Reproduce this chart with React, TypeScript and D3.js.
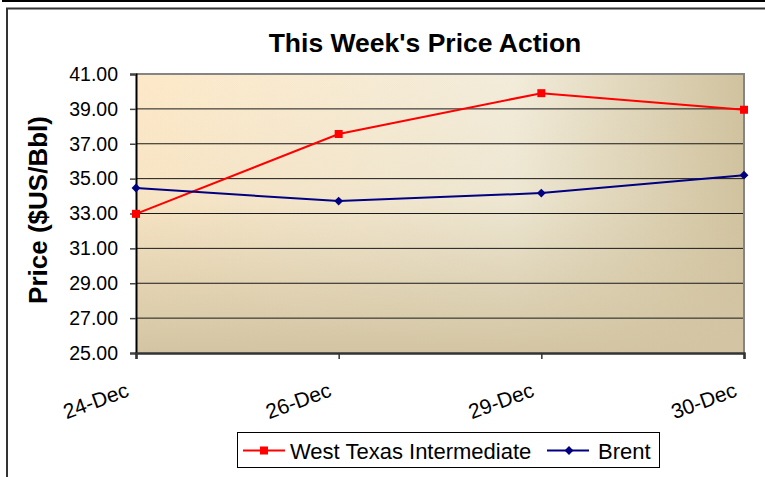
import { useEffect, useRef } from 'react';
import * as d3 from 'd3';

const dates = ['24-Dec', '26-Dec', '29-Dec', '30-Dec'];
const wti = [32.98, 37.56, 39.9, 38.95];
const brent = [34.46, 33.71, 34.17, 35.2];
const yTicks = [25, 27, 29, 31, 33, 35, 37, 39, 41];
const seriesNames = ['West Texas Intermediate', 'Brent'];

const FONT = '"Liberation Sans", Arial, sans-serif';

export default function App() {
  const svgRef = useRef<SVGSVGElement>(null);

  useEffect(() => {
    if (!svgRef.current) return;
    const svg = d3.select(svgRef.current);
    svg.selectAll('*').remove();

    const W = 765;
    const H = 477;
    const plot = { left: 136, right: 744, top: 74, bottom: 353 };

    svg.attr('width', W).attr('height', H).style('font-family', FONT);

    const x = d3.scalePoint<string>().domain(dates).range([plot.left, plot.right]);
    const y = d3.scaleLinear().domain([25, 41]).range([plot.bottom, plot.top]);

    // Background frame
    svg.append('rect').attr('width', W).attr('height', H).attr('fill', '#fff');
    svg.append('rect').attr('x', 2).attr('y', 0).attr('width', W).attr('height', 2).attr('fill', '#000');
    svg.append('path')
      .attr('d', `M7,${H} V8.5 H${W}`)
      .attr('fill', 'none')
      .attr('stroke', '#333')
      .attr('stroke-width', 2);

    // Gradients for plot area
    const defs = svg.append('defs');
    const hGrad = defs.append('linearGradient').attr('id', 'bg-h').attr('x1', '0%').attr('x2', '100%');
    hGrad.append('stop').attr('offset', '0%').attr('stop-color', '#fde9c9');
    hGrad.append('stop').attr('offset', '62%').attr('stop-color', '#f2ecda');
    hGrad.append('stop').attr('offset', '100%').attr('stop-color', '#d0c29e');
    const vGrad = defs.append('linearGradient').attr('id', 'bg-v').attr('x1', '0%').attr('x2', '0%').attr('y1', '0%').attr('y2', '100%');
    vGrad.append('stop').attr('offset', '0%').attr('stop-color', '#d3c5a3').attr('stop-opacity', 0);
    vGrad.append('stop').attr('offset', '45%').attr('stop-color', '#d3c5a3').attr('stop-opacity', 0.15);
    vGrad.append('stop').attr('offset', '100%').attr('stop-color', '#d3c5a3').attr('stop-opacity', 1);

    const pw = plot.right - plot.left;
    const ph = plot.bottom - plot.top;
    svg.append('rect').attr('x', plot.left).attr('y', plot.top).attr('width', pw).attr('height', ph).attr('fill', 'url(#bg-h)');
    svg.append('rect').attr('x', plot.left).attr('y', plot.top).attr('width', pw).attr('height', ph).attr('fill', 'url(#bg-v)');

    // Gridlines
    svg.append('g')
      .selectAll('line')
      .data(yTicks.filter(t => t > 25 && t < 41))
      .join('line')
      .attr('x1', plot.left).attr('x2', plot.right)
      .attr('y1', d => y(d)).attr('y2', d => y(d))
      .attr('stroke', '#1a1a1a')
      .attr('stroke-width', 1);

    // Plot border (top/right gray)
    svg.append('path')
      .attr('d', `M${plot.left},${plot.top} H${plot.right} V${plot.bottom}`)
      .attr('fill', 'none')
      .attr('stroke', '#858585')
      .attr('stroke-width', 2);

    // Y axis
    const yAxis = d3.axisLeft(y).tickValues(yTicks).tickSize(6).tickPadding(12).tickFormat(d => d3.format('.2f')(d as number));
    const gy = svg.append('g').attr('transform', `translate(${plot.left},0)`).call(yAxis);
    gy.select('.domain').attr('stroke', '#000').attr('stroke-width', 2);
    gy.selectAll('.tick line').attr('stroke', '#444').attr('stroke-width', 1.5);
    gy.selectAll('.tick text').attr('fill', '#000').style('font-size', '19.5px').style('font-family', FONT);

    // X axis
    const xAxis = d3.axisBottom(x).tickSize(6).tickFormat(() => '');
    const gx = svg.append('g').attr('transform', `translate(0,${plot.bottom})`).call(xAxis);
    gx.select('.domain').attr('stroke', '#333').attr('stroke-width', 2.5);
    gx.selectAll('.tick line').attr('stroke', '#333').attr('stroke-width', 1.5);

    svg.append('g')
      .selectAll('text')
      .data(dates)
      .join('text')
      .attr('transform', d => `translate(${(x(d) ?? 0) - 6},396) rotate(-20)`)
      .attr('text-anchor', 'end')
      .style('font-size', '21px')
      .attr('fill', '#000')
      .text(d => d);

    // Lines
    const line = d3.line<number>().x((_, i) => x(dates[i]) ?? 0).y(d => y(d));

    svg.append('path').attr('d', line(wti)).attr('fill', 'none').attr('stroke', '#ff0000').attr('stroke-width', 2);
    svg.append('path').attr('d', line(brent)).attr('fill', 'none').attr('stroke', '#000080').attr('stroke-width', 2);

    svg.append('g')
      .selectAll('rect')
      .data(wti)
      .join('rect')
      .attr('x', (_, i) => (x(dates[i]) ?? 0) - 4)
      .attr('y', d => y(d) - 4)
      .attr('width', 8).attr('height', 8)
      .attr('fill', '#ff0000');

    const diamond = d3.symbol().type(d3.symbolDiamond2).size(50);
    svg.append('g')
      .selectAll('path')
      .data(brent)
      .join('path')
      .attr('transform', (d, i) => `translate(${x(dates[i])},${y(d)})`)
      .attr('d', diamond() as string)
      .attr('fill', '#000080');

    // Title
    svg.append('text')
      .attr('x', 425).attr('y', 52)
      .attr('text-anchor', 'middle')
      .style('font-size', '26.5px').style('font-weight', 'bold')
      .text("This Week's Price Action");

    // Y axis title
    svg.append('text')
      .attr('transform', 'translate(47,210) rotate(-90)')
      .attr('text-anchor', 'middle')
      .style('font-size', '26px').style('font-weight', 'bold')
      .text('Price ($US/Bbl)');

    // Legend
    const lg = svg.append('g').attr('transform', 'translate(237.5,432.5)');
    lg.append('rect').attr('width', 422).attr('height', 35).attr('fill', '#fff').attr('stroke', '#000').attr('stroke-width', 1);
    const items = [
      { name: seriesNames[0], color: '#ff0000', x0: 5.5, tx: 47, marker: 'square' },
      { name: seriesNames[1], color: '#000080', x0: 309.5, tx: 51, marker: 'diamond' },
    ];
    items.forEach(it => {
      const g = lg.append('g').attr('transform', `translate(${it.x0},18)`);
      g.append('line').attr('x1', 0).attr('x2', 42).attr('stroke', it.color).attr('stroke-width', 2);
      if (it.marker === 'square') {
        g.append('rect').attr('x', 17).attr('y', -4).attr('width', 8).attr('height', 8).attr('fill', it.color);
      } else {
        g.append('path').attr('transform', 'translate(22,0)').attr('d', diamond() as string).attr('fill', it.color);
      }
      g.append('text').attr('x', it.tx).attr('y', 8).style('font-size', '22px').text(it.name);
    });
  }, []);

  return (
    <div style={{ position: 'absolute', left: 0, top: 0 }}>
      <svg ref={svgRef} />
    </div>
  );
}
